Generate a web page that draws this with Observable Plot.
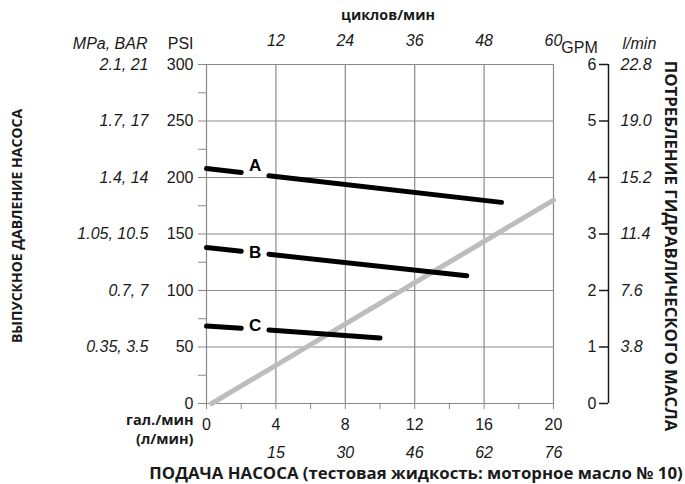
<!DOCTYPE html>
<html><head><meta charset="utf-8">
<script src="https://cdn.jsdelivr.net/npm/d3@7"></script>
<script src="https://cdn.jsdelivr.net/npm/@observablehq/plot@0.6"></script>
<style>body{margin:0;background:#fff}</style>
</head><body><div id="chart"></div>
<script>
// ---- data ----
const flowTicks = [0, 4, 8, 12, 16, 20];            // гал./мин
const flowMinor = [2, 6, 10, 14, 18];
const litreLabels = ["15", "30", "46", "62", "76"]; // under 4..20
const litreAt = [4, 8, 12, 16, 20];
const cycleLabels = ["12", "24", "36", "48", "60"]; // циклов/мин, above 4..20
const cycleAt = [4, 8, 12, 16, 20];
const psiTicks = [0, 50, 100, 150, 200, 250, 300];
const psiMinor = [25, 75, 125, 175, 225, 275];
const mpaLabels = ["0.35, 3.5", "0.7, 7", "1.05, 10.5", "1.4, 14", "1.7, 17", "2.1, 21"];
const mpaAt = [50, 100, 150, 200, 250, 300];
const gpmTicks = [0, 1, 2, 3, 4, 5, 6];
const lminLabels = ["3.8", "7.6", "11.4", "15.2", "19.0", "22.8"];
const lminAt = [1, 2, 3, 4, 5, 6];
// pressure curves (flow gpm, psi), broken around their labels
const curveA = [[0, 208, "A1"], [2.0, 204.5, "A1"], [3.6, 201.6, "A2"], [17, 178, "A2"]];
const curveB = [[0, 138, "B1"], [2.0, 134.7, "B1"], [3.6, 132, "B2"], [15, 113, "B2"]];
const curveC = [[0, 68.5, "C1"], [2.0, 66.5, "C1"], [3.6, 65, "C2"], [10, 58, "C2"]];
const curveNames = ["A", "B", "C"];
const curveLabelX = [2.8, 2.8, 2.8];
const curveLabelPsi = [211, 134, 69];
// hydraulic oil consumption (flow gpm, oil gpm)
const oilFlow = [[0.3, 0], [20, 3.6]];

// ---- build ----
const PSI_PER_GPM = 300 / 6;
const curves = [...curveA, ...curveB, ...curveC].map(([x, psi, seg]) => ({x, psi, seg}));
const oil = oilFlow.map(([x, g]) => ({x, psi: g * PSI_PER_GPM}));
const grid = "#8a8a8a";
const ink = "#1a1a1a";
const boldFont = "'Open Sans', 'Noto Sans', sans-serif";

const chart = Plot.plot({
  width: 685, height: 484,
  marginLeft: 206, marginRight: 132, marginTop: 64, marginBottom: 81,
  style: {fontFamily: "'Liberation Sans', Arial, sans-serif", fontSize: "16px", color: ink, background: "#fff"},
  x: {domain: [0, 20], axis: null},
  y: {domain: [0, 300], axis: null},
  marks: [
    Plot.gridX(flowTicks.slice(1), {stroke: grid, strokeOpacity: 1, strokeWidth: 1.2}),
    Plot.gridY(psiTicks.slice(1), {stroke: grid, strokeOpacity: 1, strokeWidth: 1.2}),
    Plot.ruleX([0], {stroke: grid, strokeWidth: 1.2}),
    Plot.ruleY([0], {stroke: grid, strokeWidth: 1.2}),
    // left axis
    Plot.axisY(psiTicks, {anchor: "left", tickSize: 8, tickPadding: 5, stroke: grid, fill: ink, label: null}),
    Plot.axisY(psiMinor, {anchor: "left", tickSize: 8, stroke: grid, text: null, label: null}),
    Plot.text(mpaLabels, {x: () => 0, y: (d, i) => mpaAt[i], text: d => d, dx: -58, textAnchor: "end", fontStyle: "italic", fill: ink}),
    Plot.text(["MPa, BAR"], {x: () => 0, y: () => 300, text: d => d, dx: -59, dy: -21, textAnchor: "end", fontStyle: "italic", fill: ink}),
    Plot.text(["PSI"], {x: () => 0, y: () => 300, text: d => d, dx: -13, dy: -21, textAnchor: "end", fill: ink}),
    // bottom axis
    Plot.axisX(flowTicks, {anchor: "bottom", tickSize: 6, tickPadding: 9, stroke: grid, fill: ink, label: null}),
    Plot.axisX(flowMinor, {anchor: "bottom", tickSize: 6, stroke: grid, text: null, label: null}),
    Plot.text(litreLabels, {x: (d, i) => litreAt[i], y: () => 0, text: d => d, dy: 49, fontStyle: "italic", fill: ink}),
    Plot.text(["гал./мин"], {x: () => 0, y: () => 0, text: d => d, dx: -13, dy: 17, textAnchor: "end", fontFamily: boldFont, fontWeight: "bold", fontSize: 14.5, fill: ink}),
    Plot.text(["(л/мин)"], {x: () => 0, y: () => 0, text: d => d, dx: -13, dy: 36, textAnchor: "end", fontFamily: boldFont, fontWeight: "bold", fontSize: 14.5, fill: ink}),
    Plot.text(["ПОДАЧА НАСОСА (тестовая жидкость: моторное масло № 10)"], {frameAnchor: "bottom", text: d => d, textAnchor: "middle", lineAnchor: "middle", dx: 36, dy: 70, fontFamily: boldFont, fontWeight: "bold", fontSize: 16.8, fill: ink}),
    // top axis
    Plot.text(cycleLabels, {x: (d, i) => cycleAt[i], y: () => 300, text: d => d, dy: -24, fontStyle: "italic", fill: ink}),
    Plot.text(["циклов/мин"], {frameAnchor: "top", text: d => d, textAnchor: "middle", lineAnchor: "middle", dx: 8, dy: -49, fontFamily: boldFont, fontWeight: "bold", fontSize: 14.3, fill: ink}),
    // left title
    Plot.text(["ВЫПУСКНОЕ ДАВЛЕНИЕ НАСОСА"], {frameAnchor: "left", text: d => d, textAnchor: "middle", lineAnchor: "middle", rotate: -90, dx: -189, dy: -8, fontFamily: boldFont, fontWeight: "bold", fontSize: 14, fill: ink}),
    // right axis (GPM / l/min)
    Plot.ruleX([20], {y1: 0, y2: 300, dx: 55, stroke: ink, strokeWidth: 1.5}),
    Plot.axisY(gpmTicks.map(g => g * PSI_PER_GPM), {anchor: "left", dx: 402, tickSize: 9, tickPadding: 3, stroke: ink, fill: ink, strokeWidth: 1.5, tickFormat: v => String(v / PSI_PER_GPM), label: null}),
    Plot.text(lminLabels, {x: () => 20, y: (d, i) => lminAt[i] * PSI_PER_GPM, text: d => d, dx: 67, textAnchor: "start", fontStyle: "italic", fill: ink}),
    Plot.text(["GPM"], {x: () => 20, y: () => 300, text: d => d, dx: 26, dy: -17, fill: ink}),
    Plot.text(["l/min"], {x: () => 20, y: () => 300, text: d => d, dx: 69, dy: -21, textAnchor: "start", fontStyle: "italic", fill: ink}),
    Plot.text(["ПОТРЕБЛЕНИЕ ГИДРАВЛИЧЕСКОГО МАСЛА"], {frameAnchor: "right", text: d => d, textAnchor: "middle", lineAnchor: "middle", rotate: 90, dx: 117, dy: 12, fontFamily: boldFont, fontWeight: "bold", fontSize: 16.8, fill: ink}),
    // data
    Plot.line(oil, {x: "x", y: "psi", stroke: "#bdbdbd", strokeWidth: 5}),
    Plot.line(curves, {x: "x", y: "psi", z: "seg", stroke: "#000", strokeWidth: 5}),
    Plot.text(curveNames, {x: (d, i) => curveLabelX[i], y: (d, i) => curveLabelPsi[i], text: d => d, fontWeight: "bold", fontSize: 17, fill: "#000"})
  ]
});
document.getElementById("chart").appendChild(chart);
</script>
</body></html>
